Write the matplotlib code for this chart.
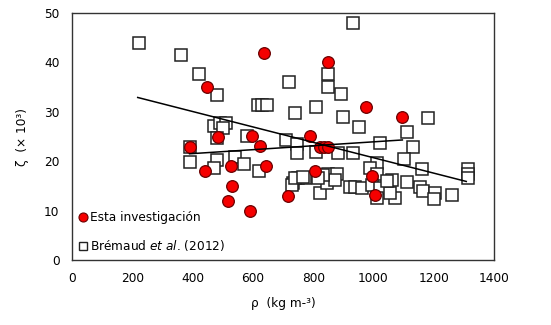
import matplotlib
matplotlib.use("Agg")
import matplotlib.pyplot as plt
from matplotlib.lines import Line2D

# Esta investigación (rho, zeta)
esta_rho = [636, 447, 390, 485, 598, 624, 789, 848, 974, 1096, 823, 837, 850,
            440, 528, 644, 530, 518, 592, 717, 806, 994, 1005]
esta_zeta = [42.0, 35.1, 22.9, 25.0, 25.1, 23.1, 25.1, 40.1, 30.9, 28.9, 22.9, 22.9, 22.9,
             18.0, 19.0, 19.1, 15.0, 12.0, 10.0, 13.0, 18.0, 17.0, 13.2]

# Brémaud et al. (2012)
brem_rho = [221, 361, 420, 480, 617, 631, 646, 721, 741, 471, 491, 510, 500, 480,
            580, 710, 748, 748, 390, 390, 480, 541, 571, 471, 622,
            932, 850, 850, 891, 810, 900, 952, 1182, 1110, 1130, 1022, 1101,
            810, 884, 931, 1011, 989, 1011, 1161, 1313, 1313, 1313,
            734, 751, 773, 823, 845, 850, 880, 873, 922, 939, 961, 994, 1022,
            1011, 1061, 1072, 1055, 1110, 1155, 1163, 1204, 1201, 1262,
            729, 740, 767, 834, 1046, 815]
brem_zeta = [44.0, 41.5, 37.7, 33.3, 31.4, 31.4, 31.4, 36.1, 29.8, 27.1, 27.8, 27.7, 26.7, 24.6,
             25.1, 24.3, 23.5, 21.6, 22.9, 19.8, 20.2, 20.8, 19.4, 18.6, 18.0,
             48.0, 37.7, 35.0, 33.6, 31.0, 28.9, 27.0, 28.7, 26.0, 22.9, 23.6, 20.4,
             21.9, 21.6, 21.6, 19.6, 18.6, 17.5, 18.4, 18.4, 17.4, 16.6,
             15.5, 16.7, 16.5, 13.5, 15.5, 17.5, 17.5, 16.2, 14.8, 14.8, 14.5, 15.2, 14.5,
             12.5, 16.2, 12.5, 13.5, 15.7, 14.8, 14.0, 13.5, 12.3, 13.2,
             15.2, 16.5, 16.9, 17.2, 15.9, 16.6]

# linear trend lines (end points)
trend_brem_rho = [218, 1308]
trend_brem_zeta = [32.9, 15.9]
trend_esta_rho = [390, 1096]
trend_esta_zeta = [21.5, 24.3]

x_ticks = [0, 200, 400, 600, 800, 1000, 1200, 1400]
y_ticks = [0, 10, 20, 30, 40, 50]

plt.rcParams['font.family'] = ['DejaVu Sans']
plt.rcParams['mathtext.fontset'] = 'dejavusans'

fig = plt.figure(figsize=(5.51, 3.25), dpi=100)
ax = fig.add_axes([72/551, 1-260/325, (494-72)/551, (260-13)/325])

ax.plot(brem_rho, brem_zeta, linestyle='none', marker='s', markersize=8.3,
        markerfacecolor='white', markeredgecolor='#222222', markeredgewidth=1.1, zorder=2)
ax.plot(esta_rho, esta_zeta, linestyle='none', marker='o', markersize=8.4,
        markerfacecolor='#F50000', markeredgecolor='#6a0000', markeredgewidth=0.9, zorder=3)
ax.plot(trend_brem_rho, trend_brem_zeta, color='black', linewidth=1.1, zorder=4)
ax.plot(trend_esta_rho, trend_esta_zeta, color='black', linewidth=1.1, zorder=4)

ax.set_xlim(0, 1400)
ax.set_ylim(0, 50)
ax.set_xticks(x_ticks)
ax.set_yticks(y_ticks)
ax.tick_params(axis='both', length=0, labelsize=8.7, colors='black')
ax.tick_params(axis='x', pad=9)
ax.tick_params(axis='y', pad=9)
for s in ax.spines.values():
    s.set_color('#333333')
    s.set_linewidth(1.0)

ax.set_xlabel('ρ  (kg m-³)', fontsize=8.7, labelpad=8)
ax.set_ylabel('ζ  (× 10³)', fontsize=8.7, labelpad=11)

handles = [
    Line2D([], [], linestyle='none', marker='o', markersize=6.5,
           markerfacecolor='#F50000', markeredgecolor='#6a0000', markeredgewidth=0.8),
    Line2D([], [], linestyle='none', marker='s', markersize=6,
           markerfacecolor='white', markeredgecolor='#222222', markeredgewidth=1.0),
]
labels = ['Esta investigación', r'Brémaud $\it{et\ al}$. (2012)']
ax.legend(handles, labels, loc='lower left', bbox_to_anchor=(0.0, 0.0),
          frameon=False, fontsize=8.7, handlelength=0.6, handletextpad=0.25,
          labelspacing=1.15, borderaxespad=0.35, borderpad=0.25)

fig.savefig('out.png', dpi=100)
